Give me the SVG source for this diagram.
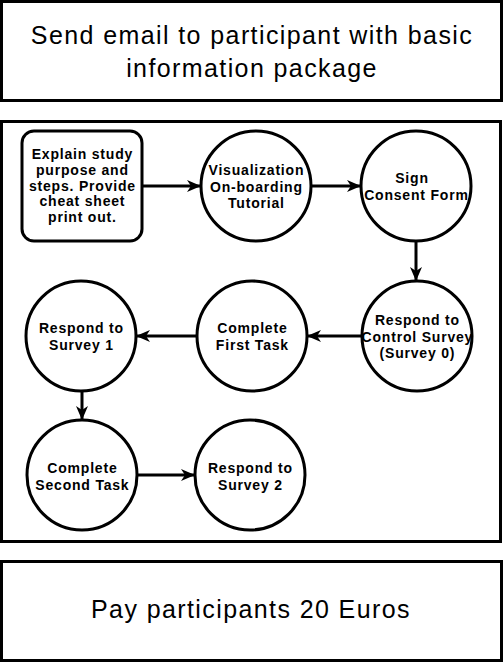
<svg xmlns="http://www.w3.org/2000/svg" width="503" height="663" viewBox="0 0 503 663">
<style>
.box{fill:#fff;stroke:#000;stroke-width:3}
.node{fill:#fff;stroke:#000;stroke-width:3}
.big{font-family:"Liberation Sans",Arial,sans-serif;font-size:25px;letter-spacing:1.4px;fill:#000;text-anchor:middle}
.lbl{font-family:"Liberation Sans",Arial,sans-serif;font-size:14px;letter-spacing:0.8px;font-weight:bold;fill:#000;text-anchor:middle}
.edge{fill:none;stroke:#000;stroke-width:3}
</style>
<defs>
<marker id="arr" markerUnits="userSpaceOnUse" markerWidth="14" markerHeight="12" refX="13" refY="6" orient="auto">
<path d="M0,0 L14,6 L0,12 L4,6 Z" fill="#000"/>
</marker>
</defs>
<rect width="503" height="663" fill="#fff"/>
<g id="top">
<rect class="box" x="1.5" y="1.5" width="500" height="99"/>
<text class="big" x="252" y="44">Send email to participant with basic</text>
<text class="big" x="252" y="77">information package</text>
</g>
<g id="container">
<rect class="box" x="1.5" y="121.5" width="499" height="420"/>
</g>
<g id="bottom">
<rect class="box" x="1.5" y="561.5" width="500" height="99"/>
<text class="big" x="251" y="618">Pay participants 20 Euros</text>
</g>
<g id="edges">
<line class="edge" x1="142" y1="186" x2="200" y2="186" marker-end="url(#arr)"/>
<line class="edge" x1="311" y1="186" x2="360" y2="186" marker-end="url(#arr)"/>
<line class="edge" x1="416" y1="241" x2="416" y2="280" marker-end="url(#arr)"/>
<line class="edge" x1="362" y1="336" x2="308" y2="336" marker-end="url(#arr)"/>
<line class="edge" x1="197" y1="336" x2="137" y2="336" marker-end="url(#arr)"/>
<line class="edge" x1="82" y1="391" x2="82" y2="419" marker-end="url(#arr)"/>
<line class="edge" x1="137" y1="475" x2="194" y2="475" marker-end="url(#arr)"/>
</g>
<g id="explain">
<rect class="node" x="22" y="131" width="120" height="110" rx="12"/>
<text class="lbl" x="82.4" y="159.1">Explain study</text>
<text class="lbl" x="82.4" y="174.8">purpose and</text>
<text class="lbl" x="82.4" y="190.5">steps. Provide</text>
<text class="lbl" x="82.4" y="206.2">cheat sheet</text>
<text class="lbl" x="82.4" y="221.9">print out.</text>
</g>
<g id="visualization">
<circle class="node" cx="256" cy="186" r="55"/>
<text class="lbl" x="256.4" y="175">Visualization</text>
<text class="lbl" x="256.4" y="191.5">On-boarding</text>
<text class="lbl" x="256.4" y="208">Tutorial</text>
</g>
<g id="consent">
<circle class="node" cx="416" cy="186" r="55"/>
<text class="lbl" x="412" y="183">Sign</text>
<text class="lbl" x="416.4" y="199.5">Consent Form</text>
</g>
<g id="control">
<circle class="node" cx="417" cy="336" r="55"/>
<text class="lbl" x="417.4" y="325">Respond to</text>
<text class="lbl" x="417.4" y="341.5">Control Survey</text>
<text class="lbl" x="417.4" y="358">(Survey 0)</text>
</g>
<g id="task1">
<circle class="node" cx="252" cy="336" r="55"/>
<text class="lbl" x="252.4" y="333">Complete</text>
<text class="lbl" x="252.4" y="349.5">First Task</text>
</g>
<g id="survey1">
<circle class="node" cx="81" cy="336" r="55"/>
<text class="lbl" x="81.4" y="333">Respond to</text>
<text class="lbl" x="81.4" y="349.5">Survey 1</text>
</g>
<g id="task2">
<circle class="node" cx="82" cy="475" r="55"/>
<text class="lbl" x="82.4" y="473">Complete</text>
<text class="lbl" x="82.4" y="489.5">Second Task</text>
</g>
<g id="survey2">
<circle class="node" cx="250" cy="475" r="55"/>
<text class="lbl" x="250.4" y="473">Respond to</text>
<text class="lbl" x="250.4" y="489.5">Survey 2</text>
</g>
</svg>
